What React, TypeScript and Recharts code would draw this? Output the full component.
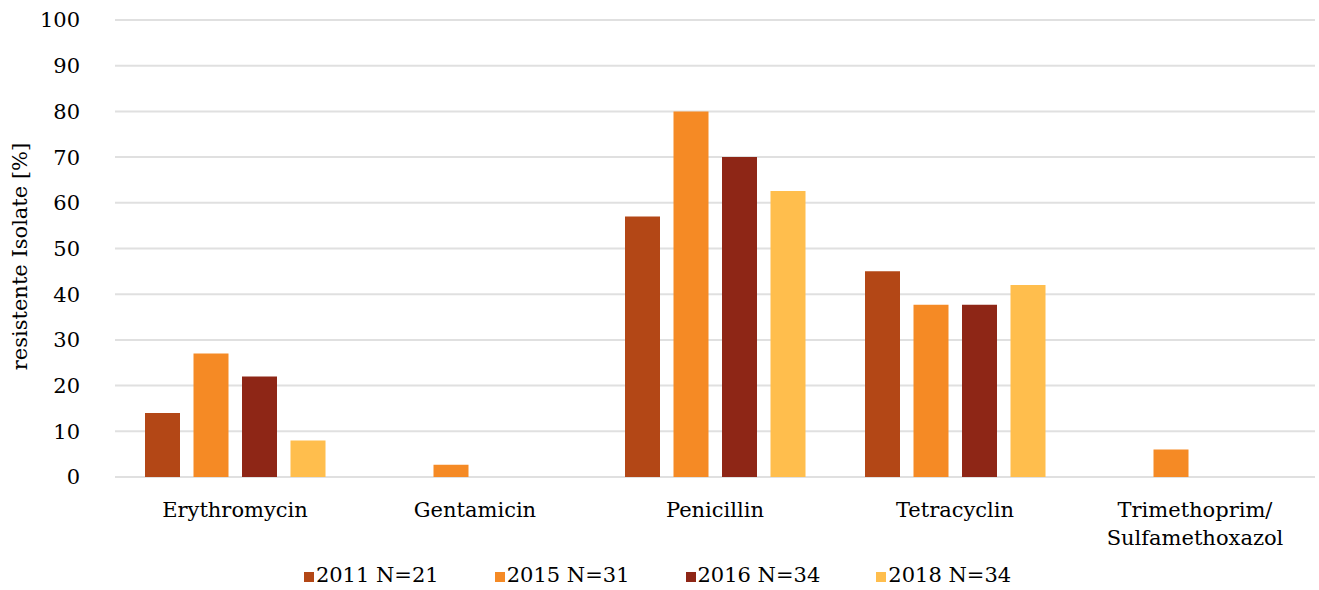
import { BarChart, Bar, XAxis, YAxis, CartesianGrid, Legend } from 'recharts';

const categories = ['Erythromycin', 'Gentamicin', 'Penicillin', 'Tetracyclin', 'Trimethoprim/Sulfamethoxazol'];
const series2011 = [14, 0, 57, 45, 0];
const series2015 = [27, 2.7, 80, 37.7, 6];
const series2016 = [22, 0, 70, 37.7, 0];
const series2018 = [8, 0, 62.6, 42, 0];
const yTicks = [0, 10, 20, 30, 40, 50, 60, 70, 80, 90, 100];

const seriesMeta = [
  { key: 'y2011', name: '2011 N=21', color: '#B34716' },
  { key: 'y2015', name: '2015 N=31', color: '#F58A25' },
  { key: 'y2016', name: '2016 N=34', color: '#8E2616' },
  { key: 'y2018', name: '2018 N=34', color: '#FFBE4D' },
];

const chartData = categories.map((name, i) => ({
  name,
  y2011: series2011[i],
  y2015: series2015[i],
  y2016: series2016[i],
  y2018: series2018[i],
}));

const FONT = '"DejaVu Serif", serif';
const FONT_SIZE = 21;

// category names wrap after a slash, like the original axis
function CategoryTick({ x, y, payload }: any) {
  const label: string = payload.value;
  const slash = label.indexOf('/');
  const lines = slash >= 0 ? [label.slice(0, slash + 1), label.slice(slash + 1)] : [label];
  return (
    <text x={x} y={y + 32} textAnchor="middle" fill="#000" fontSize={FONT_SIZE} fontFamily={FONT}>
      {lines.map((line, i) => (
        <tspan key={i} x={x} dy={i === 0 ? 0 : 28}>
          {line}
        </tspan>
      ))}
    </text>
  );
}

function LegendRow() {
  return (
    <div
      style={{
        height: 30,
        display: 'flex',
        justifyContent: 'center',
        alignItems: 'center',
        gap: 56,
        fontFamily: FONT,
        fontSize: FONT_SIZE,
        color: '#000',
      }}
    >
      {seriesMeta.map((s) => (
        <div key={s.key} style={{ display: 'flex', alignItems: 'center', gap: 2 }}>
          <span style={{ width: 10, height: 10, background: s.color, display: 'inline-block', marginTop: 3 }} />
          <span>{s.name}</span>
        </div>
      ))}
    </div>
  );
}

export default function App() {
  return (
    <div style={{ position: 'absolute', left: 0, top: 0, background: '#fff' }}>
      <BarChart
        width={1319}
        height={590}
        data={chartData}
        margin={{ top: 20, right: 4, left: 0, bottom: 0 }}
        barSize={35}
        barGap={13.5}
      >
        <CartesianGrid vertical={false} stroke="#e0e0e0" strokeWidth={2} />
        <XAxis
          dataKey="name"
          axisLine={false}
          tickLine={false}
          height={83}
          interval={0}
          tick={<CategoryTick />}
        />
        <YAxis
          width={115}
          domain={[0, 100]}
          ticks={yTicks}
          axisLine={false}
          tickLine={false}
          tickMargin={29}
          tick={{ fontSize: FONT_SIZE, fontFamily: FONT, fill: '#000' }}
          label={{
            content: ({ viewBox }: any) => {
              const cx = viewBox.x + 20;
              const cy = viewBox.y + viewBox.height / 2 + 8;
              return (
                <text
                  x={cx}
                  y={cy}
                  transform={`rotate(-90, ${cx}, ${cy})`}
                  textAnchor="middle"
                  dominantBaseline="central"
                  fontSize={FONT_SIZE}
                  fontFamily={FONT}
                  fill="#000"
                >
                  resistente Isolate [%]
                </text>
              );
            },
          }}
        />
        <Legend verticalAlign="bottom" content={<LegendRow />} />
        {seriesMeta.map((s) => (
          <Bar key={s.key} dataKey={s.key} name={s.name} fill={s.color} isAnimationActive={false} />
        ))}
      </BarChart>
    </div>
  );
}
